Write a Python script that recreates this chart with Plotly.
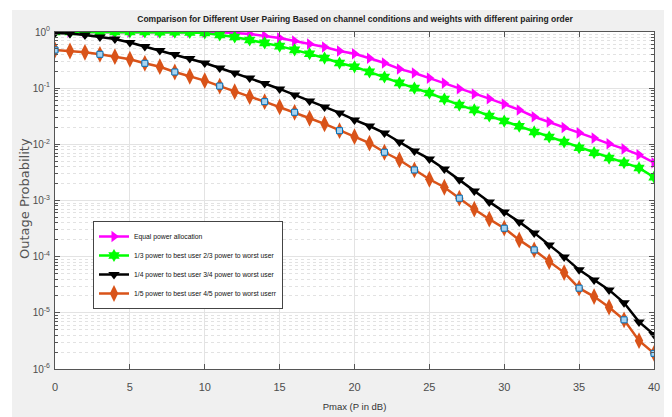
import plotly.graph_objects as go

# ---------------- data ----------------
pmax_db = list(range(0, 41))

equal_power = [1.0, 1.0, 1.0, 1.0, 1.0, 1.0, 1.0, 1.0, 1.0, 1.0, 0.995,
               0.99, 0.96, 0.92, 0.85, 0.78, 0.69, 0.61, 0.54, 0.46, 0.41,
               0.34, 0.28, 0.22, 0.186, 0.151, 0.123, 0.098, 0.079, 0.065, 0.052,
               0.041, 0.031, 0.025, 0.020, 0.016, 0.0129, 0.0102, 0.0083, 0.0065, 0.0047]

third_power = [1.0, 1.0, 1.0, 1.0, 1.0, 1.0, 1.0, 0.995, 0.99, 0.98, 0.96,
               0.885, 0.815, 0.72, 0.64, 0.56, 0.48, 0.41, 0.344, 0.28, 0.24,
               0.195, 0.158, 0.124, 0.100, 0.082, 0.064, 0.050, 0.041, 0.032, 0.026,
               0.021, 0.0166, 0.0135, 0.011, 0.0087, 0.0071, 0.0057, 0.0047, 0.0038, 0.0026]

quarter_power = [0.96, 0.94, 0.885, 0.815, 0.75, 0.65, 0.552, 0.469, 0.398, 0.338, 0.281,
                 0.229, 0.186, 0.152, 0.121, 0.0968, 0.0757, 0.0592, 0.0463, 0.0362, 0.0272,
                 0.0212, 0.0159, 0.0110, 0.00763, 0.00550, 0.00365, 0.00233, 0.00148, 0.000944, 0.000627,
                 0.000416, 0.000265, 0.000162, 0.0000991, 0.0000582, 0.0000386, 0.0000256, 0.0000151, 0.0000069, 0.0000041]

fifth_power = [0.478, 0.459, 0.435, 0.401, 0.363, 0.327, 0.277, 0.241, 0.194, 0.163, 0.136,
               0.109, 0.0867, 0.0706, 0.0575, 0.0463, 0.0372, 0.0291, 0.0231, 0.0175, 0.0137,
               0.0105, 0.00723, 0.00527, 0.00350, 0.00239, 0.00172, 0.00110, 0.000700, 0.000465, 0.000321,
               0.000199, 0.000132, 0.0000818, 0.0000521, 0.0000275, 0.0000195, 0.0000126, 0.0000075, 0.0000032, 0.0000019]

square_x = [0, 3, 6, 8, 11, 14, 16, 19, 22, 24, 27, 30, 32, 35, 38, 40]

series_names = [
    "Equal power allocation",
    "1/3 power to best user 2/3 power to worst user",
    "1/4 power to best user 3/4 power to worst user",
    "1/5 power to best user 4/5 power to worst userr",
]

y_tickvals = [1e-6, 1e-5, 1e-4, 1e-3, 1e-2, 1e-1, 1e0]
y_ticktext = ["10<sup>-6</sup>", "10<sup>-5</sup>", "10<sup>-4</sup>", "10<sup>-3</sup>",
              "10<sup>-2</sup>", "10<sup>-1</sup>", "10<sup>0</sup>"]
x_tickvals = [0, 5, 10, 15, 20, 25, 30, 35, 40]

title_text = "Comparison for Different User Pairing Based on channel conditions and weights with different pairing order"
x_title = "Pmax (P in dB)"
y_title = "Outage Probability"

# ---------------- figure ----------------
SANS = "Liberation Sans, Arial, sans-serif"
OFF = 8  # page body margin shifts the figure by 8 px
W, H = 672, 417
PW, PH = 599, 337
ML, MT = 55 - OFF, 32 - OFF
MR, MB = W - ML - PW, H - MT - PH

fig = go.Figure()

fig.add_trace(go.Scatter(
    x=pmax_db, y=equal_power, name=series_names[0], mode="lines+markers",
    line=dict(color="#ff00ff", width=2.5),
    marker=dict(symbol="triangle-right", size=10, color="#ff00ff")))

fig.add_trace(go.Scatter(
    x=pmax_db, y=third_power, name=series_names[1], mode="lines+markers",
    line=dict(color="#00ff00", width=2.5),
    marker=dict(symbol="hexagram", size=10, color="#00ff00")))

fig.add_trace(go.Scatter(
    x=pmax_db, y=quarter_power, name=series_names[2], mode="lines+markers",
    line=dict(color="#000000", width=2.5),
    marker=dict(symbol="triangle-down", size=10, color="#000000")))

fig.add_trace(go.Scatter(
    x=pmax_db, y=fifth_power, name=series_names[3], mode="lines+markers",
    line=dict(color="#d95319", width=2.5),
    marker=dict(symbol="diamond-tall", size=12, color="#d95319")))

fig.add_trace(go.Scatter(
    x=square_x, y=[fifth_power[pmax_db.index(v)] for v in square_x],
    mode="markers", showlegend=False, hoverinfo="skip",
    marker=dict(symbol="square", size=6, color="#a8d4f2",
                line=dict(color="#0072bd", width=1))))

fig.update_layout(
    width=W, height=H,
    margin=dict(l=ML, r=MR, t=MT, b=MB, autoexpand=False),
    paper_bgcolor="#f0f0f0",
    plot_bgcolor="#ffffff",
    title=dict(text="<b>" + title_text + "</b>", x=(355 - OFF) / W, xref="container",
               xanchor="center", y=1 - (19 - OFF) / H, yref="container", yanchor="middle",
               font=dict(family=SANS, size=8.5, color="#222222")),
    showlegend=True,
    legend=dict(x=(93 - 55) / PW, y=1 - (221 - 32) / PH, xanchor="left", yanchor="top",
                bgcolor="#ffffff", bordercolor="#444444", borderwidth=1,
                font=dict(family=SANS, size=6.8, color="#111111"),
                tracegroupgap=0, itemwidth=30),
    font=dict(family=SANS),
    annotations=[dict(text=y_title, xref="paper", yref="paper",
                      x=(24 - 55) / PW, y=1 - (199 - 32) / PH,
                      xanchor="center", yanchor="middle", textangle=-90, showarrow=False,
                      font=dict(family="DejaVu Sans, sans-serif", size=13, color="#555555"))],
)

fig.update_xaxes(
    range=[0, 40], tickvals=x_tickvals, ticks="inside", ticklen=5, tickcolor="#555555",
    showline=True, linecolor="#555555", linewidth=1, mirror="ticks",
    showgrid=True, gridcolor="#e3e3e3", gridwidth=1, zeroline=False, automargin=False,
    tickfont=dict(family=SANS, size=11, color="#4d4d4d"), ticklabelstandoff=8,
    title=dict(text=x_title, font=dict(family=SANS, size=9.5, color="#333333"), standoff=11),
)

fig.update_yaxes(
    type="log", range=[-6, 0], tickvals=y_tickvals, ticktext=y_ticktext,
    ticks="inside", ticklen=5, tickcolor="#555555",
    showline=True, linecolor="#555555", linewidth=1, mirror="ticks",
    showgrid=True, gridcolor="#e3e3e3", gridwidth=1, zeroline=False, automargin=False,
    minor=dict(dtick="D1", ticks="inside", ticklen=3, tickcolor="#555555",
               showgrid=True, gridcolor="#e2e2e2", griddash="dot", gridwidth=1),
    tickfont=dict(family=SANS, size=10, color="#4d4d4d"), ticklabelstandoff=2,
)

# white strips outside the grey figure panel (top and left)
fig.add_shape(type="rect", xref="paper", yref="paper", layer="below",
              x0=-ML / PW, x1=(W - ML) / PW, y0=1 + (MT - 2) / PH, y1=1 + MT / PH,
              fillcolor="#ffffff", line=dict(width=0))
fig.add_shape(type="rect", xref="paper", yref="paper", layer="below",
              x0=-ML / PW, x1=-(ML - 4) / PW, y0=-MB / PH, y1=1 + MT / PH,
              fillcolor="#ffffff", line=dict(width=0))

fig.write_html("out.html")
